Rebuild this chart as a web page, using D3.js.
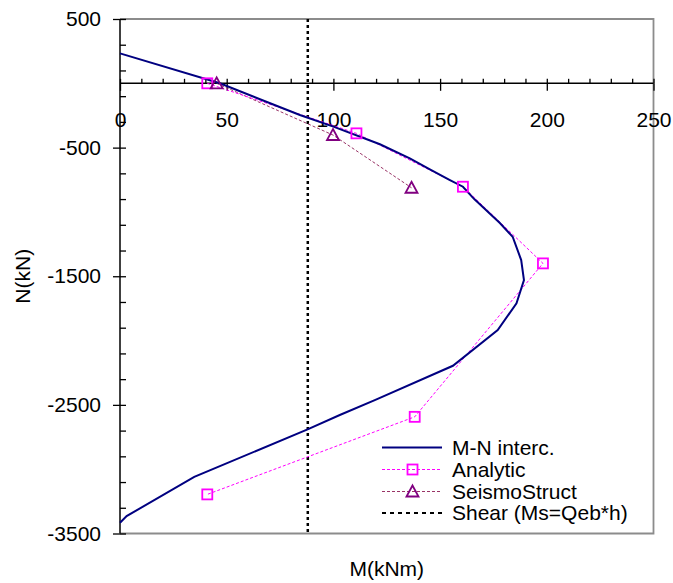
<!DOCTYPE html>
<html>
<head>
<meta charset="utf-8">
<script src="https://d3js.org/d3.v7.min.js"></script>
<style>
  body { margin: 0; background: #fff; }
  text { font-family: "Liberation Sans", Arial, sans-serif; fill: #000; }
  .tick text { font-size: 21px; }
</style>
</head>
<body>
<script>
// M-N interaction curve
var mnM = [0, 46.8, 84.3, 100, 121.8, 135.8, 145.2, 154.6, 160.7, 166, 178, 184, 188, 189.3, 185.8, 177, 156, 119.4, 103, 87.9, 34.8, 3.1, 0];
var mnN = [233, 0, -246, -337, -474, -583, -669, -752, -804, -900, -1086, -1193, -1374, -1530, -1711, -1918, -2196, -2463, -2579, -2691, -3059, -3365, -3417];
// Analytic points
var anaM = [40.9, 110.8, 160.7, 198.2, 138.1, 40.9];
var anaN = [0, -389, -804, -1400, -2593, -3196];
// SeismoStruct points
var ssM = [45.3, 99.8, 136.6];
var ssN = [0, -402, -812];
// Shear capacity Ms = Qeb*h
var shearM = 88;

var xTicks = [0, 50, 100, 150, 200, 250];
var yTicks = [500, -500, -1500, -2500, -3500];
var legendNames = ["M-N interc.", "Analytic", "SeismoStruct", "Shear (Ms=Qeb*h)"];

var width = 673, height = 583;
var pLeft = 120, pRight = 653.5, pTop = 19, pBottom = 533.5;

var svg = d3.select("body").append("svg")
  .attr("width", width).attr("height", height);

var x = d3.scaleLinear().domain([0, 250]).range([pLeft, pRight]);
var y = d3.scaleLinear().domain([500, -3500]).range([pTop, pBottom]);

// gray frame (top, right, bottom)
svg.append("path")
  .attr("d", "M" + pLeft + "," + pTop + "H" + pRight + "V" + pBottom + "H" + pLeft)
  .attr("fill", "none").attr("stroke", "#8c8c8c").attr("stroke-width", 1.8);

// y axis: minor ticks to the right, major ticks + labels to the left
var yMinor = svg.append("g").attr("transform", "translate(" + pLeft + ",0)")
  .call(d3.axisRight(y).tickValues(d3.range(500, -3501, -200)).tickSize(6).tickFormat(""));
yMinor.select(".domain").remove();
var yMajor = svg.append("g").attr("transform", "translate(" + pLeft + ",0)")
  .call(d3.axisLeft(y).tickValues(yTicks).tickSize(7).tickPadding(12)
    .tickFormat(function(d){ return String(d); }));
yMajor.select(".domain").remove();
svg.append("line").attr("x1", pLeft).attr("x2", pLeft).attr("y1", pTop).attr("y2", pBottom)
  .attr("stroke", "#000").attr("stroke-width", 1.5);

// x axis at N = 0
var xMinor = svg.append("g").attr("transform", "translate(0," + y(0) + ")")
  .call(d3.axisTop(x).tickValues(d3.range(0, 251, 10)).tickSize(4.5).tickFormat(""));
xMinor.select(".domain").remove();
var xMajor = svg.append("g").attr("transform", "translate(0," + y(0) + ")")
  .call(d3.axisBottom(x).tickValues(xTicks).tickSize(7.5).tickPadding(21));
xMajor.select(".domain").remove();
svg.append("line").attr("x1", pLeft).attr("x2", pRight).attr("y1", y(0)).attr("y2", y(0))
  .attr("stroke", "#000").attr("stroke-width", 1.5);

svg.selectAll(".tick line").attr("stroke", "#000").attr("stroke-width", 1.3);

// shear line
svg.append("line")
  .attr("x1", x(shearM)).attr("x2", x(shearM)).attr("y1", pTop).attr("y2", pBottom)
  .attr("stroke", "#000").attr("stroke-width", 2.5).attr("stroke-dasharray", "3,3");

var line = d3.line().x(function(d){ return x(d[0]); }).y(function(d){ return y(d[1]); });

var ssData = ssM.map(function(m, i){ return [m, ssN[i]]; });
var anaData = anaM.map(function(m, i){ return [m, anaN[i]]; });
var mnData = mnM.map(function(m, i){ return [m, mnN[i]]; });

svg.append("path").datum(ssData).attr("d", line)
  .attr("fill", "none").attr("stroke", "#993366").attr("stroke-width", 1).attr("stroke-dasharray", "3,2");
svg.append("path").datum(anaData).attr("d", line)
  .attr("fill", "none").attr("stroke", "#ff00ff").attr("stroke-width", 1).attr("stroke-dasharray", "3,2");
svg.append("path").datum(mnData).attr("d", line)
  .attr("fill", "none").attr("stroke", "#000080").attr("stroke-width", 2);

function square(g, cx, cy) {
  g.append("rect").attr("x", cx - 5).attr("y", cy - 5).attr("width", 10).attr("height", 10)
    .attr("fill", "none").attr("stroke", "#ff00ff").attr("stroke-width", 1.8);
}
function triangle(g, cx, cy) {
  g.append("path").attr("d", "M" + cx + "," + (cy - 6) + "L" + (cx + 6) + "," + (cy + 5) + "L" + (cx - 6) + "," + (cy + 5) + "Z")
    .attr("fill", "none").attr("stroke", "#800080").attr("stroke-width", 1.8);
}

anaData.forEach(function(d){ square(svg, x(d[0]), y(d[1])); });
ssData.forEach(function(d){ triangle(svg, x(d[0]), y(d[1])); });

// legend
var lg = svg.append("g");
var rowY = [447.5, 469.5, 491.5, 513];
var styles = [
  {stroke: "#000080", w: 2, dash: null},
  {stroke: "#ff00ff", w: 1, dash: "3,2"},
  {stroke: "#993366", w: 1, dash: "3,2"},
  {stroke: "#000", w: 2, dash: "4,4"}
];
legendNames.forEach(function(name, i){
  lg.append("line").attr("x1", 382).attr("x2", 442).attr("y1", rowY[i]).attr("y2", rowY[i])
    .attr("stroke", styles[i].stroke).attr("stroke-width", styles[i].w)
    .attr("stroke-dasharray", styles[i].dash);
  if (i == 1) square(lg, 412.5, rowY[i]);
  if (i == 2) triangle(lg, 412.5, rowY[i]);
  lg.append("text").attr("x", 452).attr("y", rowY[i]).attr("dy", "0.35em")
    .style("font-size", "21px").text(name);
});

// axis titles
svg.append("text").attr("x", (pLeft + pRight) / 2).attr("y", 576)
  .attr("text-anchor", "middle").style("font-size", "21px").text("M(kNm)");
svg.append("text").attr("transform", "translate(30," + ((pTop + pBottom) / 2) + ") rotate(-90)")
  .attr("text-anchor", "middle").style("font-size", "21px").text("N(kN)");
</script>
</body>
</html>
